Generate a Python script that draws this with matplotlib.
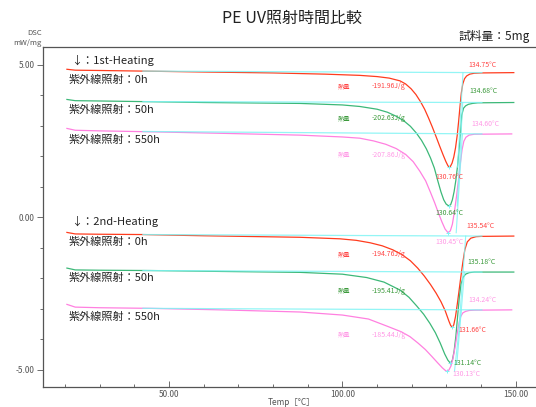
import numpy as np
import matplotlib
matplotlib.use("Agg")
import matplotlib.pyplot as plt
from matplotlib.ticker import MultipleLocator

plt.rcParams['font.family'] = ['Noto Sans CJK JP', 'DejaVu Sans']

# DSC curves, temperature [°C] / heat flow [mW/mg]
# 1st heating
t_r1 = [20.6, 23, 30, 42.5, 60, 80, 95, 105, 110, 113.5, 116.6, 118.2, 119.8, 121.2, 122.5, 123.7, 124.8,
        125.9, 127.0, 128.0, 129.0, 129.8, 130.4, 130.76, 131.1, 131.6, 132.1, 132.6, 133.1, 133.5, 133.9,
        134.3, 134.7, 135.2, 135.8, 136.7, 138, 140, 149.4]
v_r1 = [4.86, 4.83, 4.82, 4.80, 4.77, 4.74, 4.70, 4.66, 4.62, 4.57, 4.48, 4.38, 4.22, 4.03, 3.80, 3.55, 3.27,
        2.97, 2.65, 2.35, 2.06, 1.84, 1.70, 1.65, 1.67, 1.78, 1.98, 2.28, 2.70, 3.15, 3.65,
        4.10, 4.38, 4.55, 4.64, 4.70, 4.73, 4.74, 4.75]
t_g1 = [20.6, 23, 30, 42.5, 60, 87.8, 100, 105, 110, 113, 115.5, 117.7, 119.6, 121.3, 122.8, 124.2, 125.4,
        126.5, 127.5, 128.4, 129.2, 129.9, 130.64, 131.2, 131.7, 132.2, 132.7, 133.2, 133.6, 134.0, 134.4,
        134.9, 135.5, 136.3, 137.5, 139, 149.4]
v_g1 = [3.87, 3.83, 3.82, 3.80, 3.77, 3.74, 3.69, 3.64, 3.55, 3.45, 3.32, 3.17, 2.99, 2.77, 2.53, 2.25, 1.95,
        1.62, 1.20, 0.84, 0.58, 0.44, 0.38, 0.42, 0.58, 0.85, 1.22, 1.70, 2.20, 2.70, 3.35,
        3.58, 3.66, 3.71, 3.74, 3.76, 3.77]
t_p1 = [20.6, 23, 30, 44.5, 65, 87.8, 100, 105, 109, 112.5, 115.5, 118.2, 120.4, 122.3, 124.0, 125.4, 126.6,
        127.7, 128.7, 129.6, 130.45, 131.1, 131.7, 132.3, 132.9, 133.5, 134.0, 134.5, 135.0, 135.6, 136.5,
        138, 148.8]
v_p1 = [2.92, 2.86, 2.84, 2.81, 2.76, 2.70, 2.64, 2.60, 2.51, 2.40, 2.26, 2.07, 1.83, 1.52, 1.20, 0.82, 0.48,
        0.14, -0.15, -0.38, -0.50, -0.44, -0.22, 0.20, 0.70, 1.28, 1.78, 2.23, 2.50, 2.63, 2.70,
        2.73, 2.74]
# 2nd heating
t_r2 = [20.6, 23, 30, 42.5, 60, 87.8, 99.3, 104, 108, 111.5, 114.5, 117.2, 119.6, 121.7, 123.6, 125.4, 127.0,
        128.4, 129.6, 130.7, 131.2, 131.66, 132.1, 132.6, 133.1, 133.6, 134.1, 134.7, 135.3, 136.0, 137,
        138.5, 140, 149.4]
v_r2 = [-0.49, -0.54, -0.55, -0.56, -0.60, -0.65, -0.70, -0.75, -0.83, -0.93, -1.06, -1.22, -1.42, -1.66,
        -1.92, -2.20, -2.48, -2.76, -3.05, -3.40, -3.54, -3.60, -3.52, -3.25, -2.85, -2.42, -1.98, -1.48,
        -1.05, -0.80, -0.68, -0.63, -0.62, -0.61]
t_g2 = [20.6, 23, 30, 44.5, 65, 87.8, 100, 107, 112, 116.6, 119.2, 121.4, 123.4, 125.2, 126.8, 128.2, 129.5,
        130.4, 131.14, 131.7, 132.2, 132.7, 133.2, 133.7, 134.2, 134.8, 135.5, 136.5, 138, 149.4]
v_g2 = [-1.66, -1.72, -1.73, -1.74, -1.77, -1.80, -1.86, -1.97, -2.12, -2.38, -2.62, -2.90, -3.17, -3.47,
        -3.78, -4.12, -4.48, -4.68, -4.78, -4.68, -4.38, -3.90, -3.25, -2.62, -2.18, -1.96, -1.86, -1.81,
        -1.79, -1.79]
t_p2 = [20.6, 23, 30, 44.5, 65, 87.8, 100, 107.5, 113, 117, 119.5, 121.8, 123.9, 125.8, 127.4, 128.8, 129.6,
        130.13, 130.7, 131.3, 131.9, 132.5, 133.1, 133.6, 134.1, 134.7, 135.5, 136.5, 138, 148.8]
v_p2 = [-2.85, -2.94, -2.96, -2.98, -3.03, -3.10, -3.20, -3.33, -3.57, -3.75, -3.91, -4.12, -4.33, -4.56,
        -4.76, -4.93, -5.01, -5.05, -5.00, -4.87, -4.60, -4.23, -3.80, -3.47, -3.25, -3.13, -3.08, -3.05,
        -3.04, -3.03]

curves_t = [t_r1, t_g1, t_p1, t_r2, t_g2, t_p2]
curves_v = [v_r1, v_g1, v_p1, v_r2, v_g2, v_p2]

# analysis results
peak_t = [130.76, 130.64, 130.45, 131.66, 131.14, 130.13]
peak_v = [1.65, 0.38, -0.50, -3.60, -4.78, -5.05]
end_t = [134.75, 134.68, 134.60, 135.54, 135.18, 134.24]
heat = [-191.96, -202.63, -207.86, -194.76, -195.41, -185.44]
base_left = [4.80, 3.80, 2.82, -0.56, -1.74, -2.98]
base_right = [4.75, 3.77, 2.74, -0.61, -1.79, -3.03]
base_t = [42.5, 140.2]
tan_bottom_t = [133.2, 133.1, 132.8, 133.6, 133.0, 132.3]

runs = ['↓：1st-Heating', '↓：2nd-Heating']
hours = ['0h', '50h', '550h']

line_c = ['#ff3c1e', '#3cb878', '#ff80e0']
text_c = ['#ff4646', '#3c9a3c', '#ff99e6']
cyan = '#80f4f4'
grey = '#555555'

fig = plt.figure(figsize=(5.36, 4.07), dpi=100)
ax = fig.add_axes([0.0802, 0.0491, 0.9198, 0.8354])

for i in range(6):
    c = line_c[i % 3]
    ax.plot(curves_t[i], curves_v[i], color=c, lw=0.9, zorder=2)
    ax.plot(base_t, [base_left[i], base_right[i]], color=cyan, lw=0.9, alpha=0.85, zorder=3)
    ax.plot([end_t[i], tan_bottom_t[i]], [base_right[i], peak_v[i]], color=cyan, lw=0.8, alpha=0.85, zorder=3)
    ax.plot(peak_t[i], peak_v[i], marker='+', ms=3, mew=0.7, color=cyan, zorder=4)

# annotation positions (temperature, value)
end_pos = [(136.2, 5.0), (136.5, 4.16), (137.3, 3.07), (135.8, -0.28), (136.1, -1.45), (136.3, -2.70)]
heat_y = [4.31, 3.25, 2.05, -1.21, -2.41, -3.85]
peak_pos = [(126.9, 1.34), (126.9, 0.16), (126.9, -0.81), (133.4, -3.69), (132.1, -4.76), (131.8, -5.13)]

for i in range(6):
    c = text_c[i % 3]
    ax.text(end_pos[i][0], end_pos[i][1], '%.2f°C' % end_t[i], color=c, fontsize=5, va='center')
    ax.text(peak_pos[i][0], peak_pos[i][1], '%.2f°C' % peak_t[i], color=c, fontsize=5, va='center')
    ax.text(98.7, heat_y[i], '熱量', color=c, fontsize=4.5, va='center')
    ax.text(108.3, heat_y[i], '%.2fJ/g' % heat[i], color=c, fontsize=5, va='center')

run_y = [5.16, -0.14]
label_y = [[4.51, 3.52, 2.54], [-0.81, -1.98, -3.25]]
for k in range(2):
    ax.text(21.8, run_y[k], runs[k], fontsize=8, color='#222222', va='center')
    for j in range(3):
        ax.text(21.2, label_y[k][j], '紫外線照射：' + hours[j], fontsize=8, color='#222222', va='center')

ax.set_xlim(13.7, 155.8)
ax.set_ylim(-5.56, 5.59)
ax.xaxis.set_major_locator(MultipleLocator(50))
ax.xaxis.set_minor_locator(MultipleLocator(10))
ax.yaxis.set_major_locator(MultipleLocator(5))
ax.yaxis.set_minor_locator(MultipleLocator(1))
ax.xaxis.set_major_formatter(lambda x, p: '%.2f' % x)
ax.yaxis.set_major_formatter(lambda y, p: '%.2f' % y)
ax.tick_params(axis='x', which='both', direction='in', colors=grey, labelsize=6, pad=2, width=0.6)
ax.tick_params(axis='x', which='major', length=4)
ax.tick_params(axis='x', which='minor', length=2.5)
ax.tick_params(axis='y', which='both', direction='out', colors=grey, labelsize=6, pad=2, width=0.6)
ax.tick_params(axis='y', which='major', length=4)
ax.tick_params(axis='y', which='minor', length=2)
for s in ['left', 'bottom', 'top']:
    ax.spines[s].set_color(grey)
    ax.spines[s].set_linewidth(0.9)
ax.spines['right'].set_visible(False)

fig.text(0.545, 0.956, 'PE UV照射時間比較', ha='center', va='center', fontsize=11.5, color='#222222')
fig.text(0.989, 0.910, '試料量：5mg', ha='right', va='center', fontsize=8.5, color='#222222')
fig.text(0.078, 0.919, 'DSC', ha='right', va='center', fontsize=5.5, color=grey)
fig.text(0.078, 0.894, 'mW/mg', ha='right', va='center', fontsize=5.5, color=grey)
fig.text(0.543, 0.012, 'Temp［°C］', ha='center', va='center', fontsize=6, color=grey)

fig.savefig('out.png', dpi=100)
